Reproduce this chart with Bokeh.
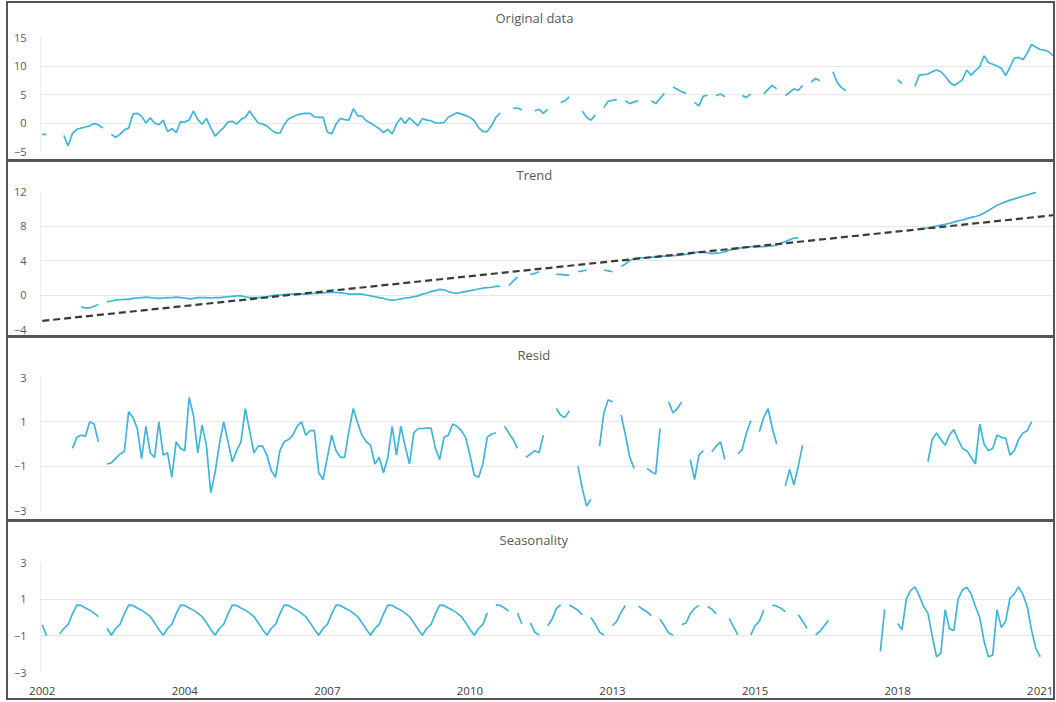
import math
from bokeh.plotting import figure
from bokeh.layouts import column
from bokeh.models import FixedTicker, ColumnDataSource, LinearAxis, Title
from bokeh.embed import file_html
from bokeh.resources import INLINE

# ---------------- data (monthly index 0 = Jan 2002) ----------------
N_MONTHS = 236
TICK_MONTHS = [0, 33, 66, 99, 132, 165, 198, 231]
TICK_LABELS = ["2002", "2004", "2007", "2010", "2013", "2015", "2018", "2021"]

# each entry: (first month index, values) ; months not listed are missing
ORIGINAL_SEGMENTS = [
    (0, [-2.0, -2.0]),
    (5, [-2.2, -4.0, -1.8, -1.1, -0.9, -0.7, -0.5, -0.1, -0.3, -0.9]),
    (16, [-2.0, -2.5, -2.0, -1.2, -0.9, 1.6, 1.7, 1.2, 0.0, 0.9,
          0.0, -0.3, 0.5, -1.5, -1.0, -1.7, 0.2, 0.2, 0.5, 2.1,
          0.6, -0.2, 0.8, -0.8, -2.3, -1.5, -0.8, 0.2, 0.3, -0.2,
          0.6, 1.0, 2.1, 1.0, 0.0, -0.2, -0.5, -1.2, -1.7, -1.8,
          -0.3, 0.7, 1.1, 1.4, 1.6, 1.7, 1.7, 1.1, 1.0, 1.0,
          -1.6, -1.9, -0.2, 0.8, 0.6, 0.5, 2.5, 1.3, 1.2, 0.4,
          0.0, -0.5, -1.0, -1.7, -1.1, -1.9, -0.2, 0.9, -0.1, 0.9,
          0.2, -0.5, 0.8, 0.5, 0.4, 0.0, 0.0, 0.1, 1.0, 1.4,
          1.8, 1.6, 1.3, 1.0, 0.4, -0.8, -1.5, -1.5, -0.5, 1.0, 1.8]),
    (109, [2.6, 2.6, 2.3]),
    (114, [2.1, 2.4, 1.7, 2.4]),
    (120, [3.6, 3.9, 4.6]),
    (125, [2.1, 1.0, 0.5, 1.4]),
    (130, [2.7, 3.8, 4.0, 4.1]),
    (135, [3.9, 3.4, 3.7, 3.9]),
    (141, [3.9, 3.4, 4.3, 5.2]),
    (146, [6.3, 5.9, 5.5, 5.2]),
    (151, [3.6, 3.0, 4.7, 4.9]),
    (156, [4.8, 5.1, 4.6]),
    (162, [4.8, 4.5, 5.1]),
    (167, [5.1, 5.9, 6.6, 6.0]),
    (172, [4.8, 5.4, 6.0, 5.7, 6.6]),
    (178, [7.2, 7.8, 7.4]),
    (183, [9.0, 7.1, 6.2, 5.7]),
    (198, [7.6, 6.9]),
    (202, [6.4, 8.4, 8.5, 8.6, 9.0, 9.3, 9.0, 8.2, 7.2, 6.6,
           7.0, 7.6, 9.3, 8.4, 9.2, 9.9, 11.8, 10.6, 10.3, 10.0,
           9.6, 8.3, 9.8, 11.4, 11.5, 11.1, 12.3, 13.8, 13.3, 12.9,
           12.8, 12.5, 11.8, 12.3]),
]

TREND_SEGMENTS = [
    (9, [-1.4, -1.5, -1.5, -1.3, -1.1]),
    (15, [-0.8, -0.7, -0.6, -0.55, -0.5, -0.5, -0.4, -0.35, -0.3, -0.25,
          -0.3, -0.35, -0.4, -0.35, -0.3, -0.3, -0.25, -0.3, -0.35, -0.45,
          -0.4, -0.3, -0.3, -0.3, -0.35, -0.3, -0.3, -0.25, -0.2, -0.15,
          -0.1, -0.1, -0.2, -0.3, -0.3, -0.3, -0.25, -0.2, -0.1, 0.0,
          0.0, 0.05, 0.1, 0.1, 0.1, 0.1, 0.1, 0.15, 0.2, 0.2,
          0.25, 0.3, 0.3, 0.3, 0.25, 0.2, 0.1, 0.1, 0.1, 0.1,
          0.0, -0.1, -0.2, -0.3, -0.4, -0.55, -0.6, -0.55, -0.45, -0.35,
          -0.3, -0.2, -0.1, 0.1, 0.2, 0.4, 0.5, 0.65, 0.6, 0.4,
          0.25, 0.2, 0.3, 0.4, 0.5, 0.6, 0.7, 0.8, 0.85, 0.9, 1.0, 1.0]),
    (108, [1.1, 1.6, 2.1]),
    (113, [2.4, 2.5, 2.7]),
    (119, [2.4, 2.4, 2.3, 2.3]),
    (124, [2.7, 2.8, 2.9]),
    (130, [2.9, 2.8, 2.7]),
    (134, [3.3, 3.6, 4.0, 4.2, 4.3, 4.3, 4.35, 4.4, 4.4, 4.45,
           4.5, 4.5, 4.55, 4.6, 4.65, 4.7, 4.8, 4.9, 5.0, 4.95,
           4.9, 4.8, 4.85, 4.9, 5.0, 5.2, 5.3, 5.4, 5.5, 5.55,
           5.6, 5.6, 5.6, 5.6, 5.65, 5.7, 5.8, 6.0, 6.2, 6.4, 6.6, 6.6]),
    (204, [7.7, 7.8, 7.9, 8.0, 8.1, 8.2, 8.3, 8.45, 8.6, 8.7,
           8.85, 9.0, 9.1, 9.25, 9.5, 9.8, 10.1, 10.4, 10.6, 10.8,
           11.0, 11.15, 11.3, 11.45, 11.6, 11.75, 11.9]),
]
# linear trend: value at first month and at last month
TREND_FIT_MONTHS = [0, 235]
TREND_FIT_VALUES = [-3.0, 9.3]

RESID_SEGMENTS = [
    (7, [-0.2, 0.3, 0.4, 0.35, 1.0, 0.9, 0.1]),
    (15, [-0.9, -0.85, -0.65, -0.45, -0.35, 1.45, 1.2, 0.7, -0.66, 0.8,
          -0.4, -0.6, 1.0, -0.5, -0.4, -1.5, 0.1, -0.2, -0.3, 2.1,
          1.3, -0.4, 0.85, -0.05, -2.2, -1.3, 0.0, 1.0, 0.1, -0.8,
          -0.3, 0.1, 1.6, 0.6, -0.4, -0.1, -0.1, -0.5, -1.2, -1.5,
          -0.3, 0.1, 0.2, 0.4, 0.8, 1.0, 0.4, 0.6, 0.6, -1.3,
          -1.6, -0.6, 0.4, -0.3, -0.6, -0.6, 0.6, 1.6, 0.95, 0.4,
          0.1, -0.05, -0.9, -0.6, -1.3, -0.6, 0.8, -0.5, 0.8, -0.1,
          -0.9, 0.5, 0.7, 0.7, 0.72, 0.72, -0.2, -0.7, 0.3, 0.4,
          0.9, 0.8, 0.6, 0.3, -0.5, -1.4, -1.5, -0.9, 0.3, 0.45, 0.5]),
    (107, [0.8, 0.5, 0.2, -0.2]),
    (112, [-0.6, -0.45, -0.3, -0.4, 0.4]),
    (119, [1.6, 1.3, 1.2, 1.5]),
    (124, [-1.0, -2.0, -2.8, -2.5]),
    (129, [-0.1, 1.4, 2.0, 1.9]),
    (134, [1.3, 0.4, -0.6, -1.1]),
    (140, [-1.1, -1.25, -1.35, 0.7]),
    (145, [1.9, 1.4, 1.6, 1.9]),
    (150, [-0.7, -1.6, -0.5, -0.3]),
    (155, [-0.35, -0.1, 0.1, -0.7]),
    (161, [-0.45, -0.25, 0.5, 1.05]),
    (166, [0.55, 1.2, 1.6, 0.7, 0.0]),
    (172, [-1.9, -1.15, -1.85, -1.0, -0.05]),
    (205, [-0.8, 0.2, 0.5, 0.2, -0.05, 0.4, 0.65, 0.2, -0.2, -0.3,
           -0.6, -0.9, 0.9, 0.0, -0.3, -0.2, 0.4, 0.3, 0.26, -0.5,
           -0.3, 0.2, 0.5, 0.6, 1.0]),
]

SEASONAL_SEGMENTS = [
    (0, [-0.4, -1.0]),
    (4, [-0.9, -0.6, -0.38, 0.2, 0.68, 0.66, 0.52, 0.4, 0.24, 0.05]),
    (15, [-0.6,
          -0.97, -0.6, -0.38, 0.2, 0.68, 0.66, 0.52, 0.4, 0.24, 0.05, -0.28, -0.65,
          -0.97, -0.6, -0.38, 0.2, 0.68, 0.66, 0.52, 0.4, 0.24, 0.05, -0.28, -0.65,
          -0.97, -0.6, -0.38, 0.2, 0.68, 0.66, 0.52, 0.4, 0.24, 0.05, -0.28, -0.65,
          -0.97, -0.6, -0.38, 0.2, 0.68, 0.66, 0.52, 0.4, 0.24, 0.05, -0.28, -0.65,
          -0.97, -0.6, -0.38, 0.2, 0.68, 0.66, 0.52, 0.4, 0.24, 0.05, -0.28, -0.65,
          -0.97, -0.6, -0.38, 0.2, 0.68, 0.66, 0.52, 0.4, 0.24, 0.05, -0.28, -0.65,
          -0.97, -0.6, -0.38, 0.2, 0.68, 0.66, 0.52, 0.4, 0.24, 0.05, -0.28, -0.65,
          -0.97, -0.6, -0.38, 0.25]),
    (105, [0.68, 0.66, 0.52, 0.35]),
    (110, [0.24, -0.35]),
    (113, [-0.3, -0.8, -0.95]),
    (117, [-0.45, -0.1, 0.5, 0.68]),
    (122, [0.68, 0.55, 0.4, 0.15]),
    (127, [0.0, -0.35, -0.8, -0.95]),
    (132, [-0.45, -0.2, 0.3, 0.65]),
    (138, [0.62, 0.45, 0.3, 0.1]),
    (143, [-0.1, -0.45, -0.85, -0.95]),
    (148, [-0.4, -0.3, 0.2, 0.5, 0.66]),
    (154, [0.6, 0.45, 0.2]),
    (159, [-0.05, -0.5, -0.95]),
    (164, [-0.95, -0.45, -0.2, 0.4]),
    (169, [0.68, 0.62, 0.5, 0.33]),
    (175, [0.15, -0.2, -0.6]),
    (179, [-0.95, -0.75, -0.45, -0.15]),
    (194, [-1.85, 0.45]),
    (198, [-0.33, -0.67, 1.0, 1.48, 1.67, 1.19, 0.6, 0.24, -1.0, -2.14,
           -1.95, 0.43, -0.62, -0.71, 1.0, 1.5, 1.65, 1.3, 0.6, 0.0,
           -1.29, -2.14, -2.05, 0.43, -0.55, -0.2, 1.05, 1.29, 1.67, 1.25,
           0.6, -0.7, -1.7, -2.14]),
]

# ---------------- helpers ----------------
LINE_COLOR = "#3fb5d8"
TEXT_GREY = "#595959"
EDGE = "2px solid #555555"
SEP = "3px solid #555555"
FONT = "Open Sans"


def to_series(segments):
    vals = [math.nan] * N_MONTHS
    for start, seg in segments:
        for i, v in enumerate(seg):
            vals[start + i] = v
    return ColumnDataSource(dict(x=list(range(N_MONTHS)), y=vals))


def make_panel(title, title_offset, gap, height, top, bottom, yr, yticks, styles, show_x=False):
    css = {"box-sizing": "content-box", "border-left": EDGE, "border-right": EDGE}
    css.update(styles)
    p = figure(width=1045, height=height, x_range=(-0.4, 235.0), y_range=yr,
               output_backend="svg", toolbar_location=None,
               min_border_left=32, min_border_right=0,
               min_border_top=top, min_border_bottom=bottom,
               styles=css)
    p.outline_line_color = None
    p.border_fill_color = "white"
    p.background_fill_color = "white"
    # white (invisible) single-tick axis directly above the frame keeps a gap
    # between the plotting area and the panel title that sits above it
    gap_axis = LinearAxis(ticker=FixedTicker(ticks=[117], minor_ticks=[]),
                          major_label_overrides={117: ""},
                          axis_line_color=None,
                          major_tick_line_color="white", major_tick_line_width=1,
                          minor_tick_line_color=None,
                          major_tick_out=gap, major_tick_in=0, minor_tick_out=0,
                          minor_tick_in=0, major_label_standoff=0,
                          major_label_text_font_size="1px",
                          major_label_text_color="white")
    p.add_layout(gap_axis, "above")
    p.add_layout(Title(text=title, align="left", offset=title_offset, standoff=0,
                       text_font=FONT, text_font_size="13px", text_font_style="normal",
                       text_color=TEXT_GREY), "above")
    p.xgrid.visible = False
    p.yaxis.ticker = FixedTicker(ticks=yticks)
    p.ygrid.ticker = FixedTicker(ticks=yticks)
    p.ygrid.grid_line_color = "#e8e8e8"
    p.ygrid.grid_line_width = 1
    p.yaxis.axis_line_color = "#ececec"
    p.yaxis.major_tick_line_color = None
    p.yaxis.minor_tick_line_color = None
    p.yaxis.major_tick_out = 0
    p.yaxis.major_tick_in = 0
    p.yaxis.major_label_text_font = FONT
    p.yaxis.major_label_text_font_size = "11px"
    p.yaxis.major_label_text_color = TEXT_GREY
    p.yaxis.major_label_standoff = 14
    bottom_axis = p.below[0]
    if show_x:
        bottom_axis.ticker = FixedTicker(ticks=TICK_MONTHS)
        bottom_axis.major_label_overrides = {m: lab for m, lab in zip(TICK_MONTHS, TICK_LABELS)}
        bottom_axis.axis_line_color = None
        bottom_axis.major_tick_line_color = None
        bottom_axis.minor_tick_line_color = None
        bottom_axis.major_tick_out = 0
        bottom_axis.major_tick_in = 0
        bottom_axis.major_label_text_font = FONT
        bottom_axis.major_label_text_font_size = "11.5px"
        bottom_axis.major_label_text_color = "#404040"
        bottom_axis.major_label_standoff = 14
    else:
        bottom_axis.visible = False
    return p


p1 = make_panel("Original data", 455, 11, 156, 34, 10, (-5, 15), [-5, 0, 5, 10, 15],
                {"border-top": EDGE})
p1.line("x", "y", source=to_series(ORIGINAL_SEGMENTS), color=LINE_COLOR, line_width=1.7)

p2 = make_panel("Trend", 476, 8, 173, 29, 9, (-4, 12), [-4, 0, 4, 8, 12],
                {"border-top": SEP})
p2.line("x", "y", source=to_series(TREND_SEGMENTS), color=LINE_COLOR, line_width=1.7)
p2.line(TREND_FIT_MONTHS, TREND_FIT_VALUES, color="#3a3a3a", line_width=2.2, line_dash="7 4")

p3 = make_panel("Resid", 477, 14, 181, 39, 12, (-3, 3), [-3, -1, 1, 3],
                {"border-top": SEP})
p3.line("x", "y", source=to_series(RESID_SEGMENTS), color=LINE_COLOR, line_width=1.7)

p4 = make_panel("Seasonality", 459, 14, 176, 40, 31, (-3, 3), [-3, -1, 1, 3],
                {"border-top": SEP, "border-bottom": EDGE}, show_x=True)
p4.line("x", "y", source=to_series(SEASONAL_SEGMENTS), color=LINE_COLOR, line_width=1.7)

layout = column(p1, p2, p3, p4, spacing=0, styles={"margin-left": "6px", "margin-top": "1px"})

with open("out.html", "w") as f:
    f.write(file_html(layout, INLINE))
